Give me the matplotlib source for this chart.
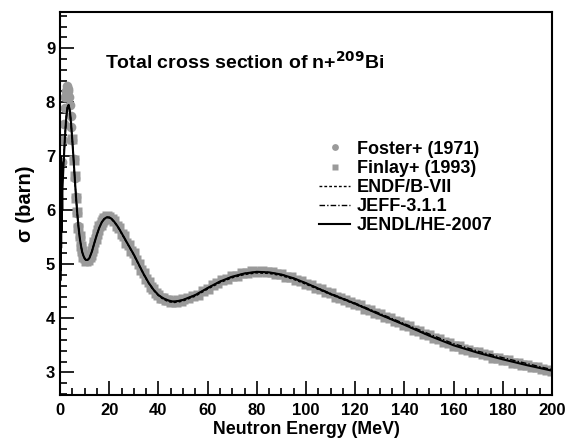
import matplotlib
matplotlib.use("Agg")
import matplotlib.pyplot as plt
from matplotlib.ticker import MultipleLocator

plt.rcParams['font.family'] = ['Liberation Sans', 'DejaVu Sans']
plt.rcParams['font.weight'] = 'bold'
plt.rcParams['mathtext.default'] = 'bf'

# evaluated data: low energy resonance region (JENDL/HE)
e_res = [0.05, 0.1, 0.15, 0.2, 0.25, 0.3, 0.35, 0.4, 0.45, 0.5, 0.55, 0.6, 0.7, 0.8, 0.9, 1.0]
s_res = [5.0, 6.8, 4.7, 6.5, 5.2, 7.0, 4.9, 6.6, 5.3, 6.9, 5.6, 6.7, 5.9, 6.3, 6.0, 6.4]

# evaluated data above 1 MeV
e_eval = [1.5, 2.0, 2.5, 3.0, 3.5, 4.0, 4.5, 5.0, 5.5, 6.0, 6.5, 7.0, 7.5, 8.0, 8.5, 9.0,
          9.5, 10, 10.5, 11, 11.5, 12, 13, 14, 15, 16, 17, 18, 19, 20, 21, 22, 23, 24,
          25, 26, 27, 28, 29, 30, 32, 34, 36, 38, 40, 42, 44, 46, 48, 50, 55, 60, 65,
          70, 75, 80, 85, 90, 95, 100, 110, 120, 130, 140, 150, 160, 170, 180, 190, 200]
s_jendl = [6.9, 7.35, 7.7, 7.9, 7.95, 7.85, 7.6, 7.3, 6.95, 6.6, 6.25, 5.95, 5.7, 5.5, 5.35, 5.23,
           5.16, 5.11, 5.08, 5.08, 5.09, 5.12, 5.24, 5.4, 5.55, 5.68, 5.78, 5.84, 5.87, 5.87, 5.84, 5.79, 5.73, 5.66,
           5.58, 5.5, 5.42, 5.34, 5.26, 5.18, 5.0, 4.82, 4.66, 4.53, 4.43, 4.37, 4.33, 4.31, 4.32, 4.34, 4.43, 4.56, 4.68,
           4.77, 4.83, 4.86, 4.85, 4.81, 4.74, 4.65, 4.45, 4.27, 4.07, 3.88, 3.68, 3.50, 3.36, 3.24, 3.13, 3.03]
s_endf = [6.9, 7.35, 7.7, 7.9, 7.94, 7.84, 7.6, 7.3, 6.95, 6.6, 6.25, 5.95, 5.7, 5.5, 5.35, 5.23,
          5.16, 5.11, 5.08, 5.08, 5.09, 5.12, 5.24, 5.4, 5.55, 5.68, 5.78, 5.84, 5.86, 5.86, 5.83, 5.78, 5.72, 5.65,
          5.57, 5.49, 5.41, 5.33, 5.25, 5.17, 4.99, 4.81, 4.65, 4.52, 4.42, 4.35, 4.31, 4.29, 4.30, 4.32, 4.41, 4.54, 4.66,
          4.75, 4.81, 4.84, 4.83, 4.79, 4.72, 4.63, 4.44, 4.26, 4.07, 3.88, 3.68]
s_jeff = [6.9, 7.35, 7.7, 7.9, 7.95, 7.85, 7.6, 7.3, 6.95, 6.6, 6.25, 5.95, 5.7, 5.5, 5.35, 5.23,
          5.16, 5.11, 5.08, 5.08, 5.09, 5.12, 5.24, 5.4, 5.55, 5.68, 5.78, 5.84, 5.87, 5.87, 5.84, 5.79, 5.73, 5.66,
          5.58, 5.5, 5.42, 5.34, 5.26, 5.18, 5.0, 4.82, 4.66, 4.53, 4.43, 4.37, 4.33, 4.31, 4.32, 4.34, 4.43, 4.56, 4.68,
          4.77, 4.83, 4.86, 4.85, 4.81, 4.74, 4.65, 4.46, 4.28, 4.09, 3.90, 3.71, 3.53, 3.39, 3.27, 3.16, 3.05]

# experimental data
e_foster = [1.0, 1.3, 1.6, 1.9, 2.2, 2.5, 2.8, 3.1, 3.4, 3.7, 4.0, 4.3, 4.6, 5.0, 5.5, 6.0, 6.5,
            7.0, 7.5, 8.0, 8.5, 9.0, 9.5, 10, 10.5, 11, 11.5, 12, 12.5, 13, 13.5, 14, 14.5, 15]
s_foster = [6.9, 7.3, 7.6, 7.9, 8.1, 8.2, 8.3, 8.25, 8.2, 8.1, 7.95, 7.75, 7.55, 7.3, 6.95, 6.6, 6.25,
            5.95, 5.7, 5.5, 5.35, 5.22, 5.15, 5.1, 5.08, 5.06, 5.08, 5.12, 5.18, 5.26, 5.35, 5.44, 5.52, 5.6]

e_finlay = [5.0, 5.5, 6.0, 6.5, 7.0, 7.5, 8.0, 8.5, 9.0, 9.5, 10, 10.5, 11, 11.5, 12, 12.5, 13, 13.5,
            14, 14.5, 15, 15.5, 16, 16.5, 17, 17.5, 18, 18.5, 19, 19.5, 20, 21, 22, 23, 24, 25, 26,
            27, 28, 29, 30, 31, 32, 33, 34, 35, 36, 37, 38, 39, 40, 41, 42, 43, 44, 45, 46, 47, 48,
            49, 50, 52, 54, 56, 58, 60, 62, 64, 66, 68, 70, 72, 74, 76, 78, 80, 82, 84, 86, 88, 90,
            92, 94, 96, 98, 100, 102, 104, 106, 108, 110, 112, 114, 116, 118, 120, 122, 124, 126,
            128, 130, 132, 134, 136, 138, 140, 142, 144, 146, 148, 150, 152, 154, 156, 158, 160,
            162, 164, 166, 168, 170, 172, 174, 176, 178, 180, 182, 184, 186, 188, 190, 192, 194,
            196, 198, 200]
s_finlay = [7.32, 6.93, 6.63, 6.22, 5.97, 5.68, 5.52, 5.33, 5.25, 5.14, 5.12, 5.06, 5.09, 5.07, 5.14,
            5.17, 5.25, 5.31, 5.42, 5.47, 5.56, 5.63, 5.70, 5.72, 5.79, 5.82, 5.86, 5.85, 5.89, 5.86,
            5.88, 5.83, 5.81, 5.71, 5.67, 5.56, 5.52, 5.40, 5.36, 5.24, 5.20, 5.08, 5.01, 4.90, 4.83,
            4.72, 4.67, 4.58, 4.54, 4.46, 4.44, 4.38, 4.38, 4.33, 4.34, 4.30, 4.32, 4.30, 4.33, 4.32,
            4.35, 4.37, 4.42, 4.44, 4.51, 4.55, 4.62, 4.65, 4.71, 4.73, 4.78, 4.79, 4.84, 4.83, 4.87,
            4.85, 4.88, 4.85, 4.86, 4.82, 4.82, 4.77, 4.76, 4.70, 4.69, 4.64, 4.62, 4.56, 4.54, 4.48,
            4.46, 4.40, 4.38, 4.33, 4.31, 4.26, 4.24, 4.18, 4.16, 4.10, 4.08, 4.02, 4.01, 3.95, 3.93,
            3.87, 3.86, 3.79, 3.77, 3.70, 3.69, 3.63, 3.62, 3.56, 3.54, 3.49, 3.48, 3.43, 3.42, 3.37,
            3.37, 3.33, 3.32, 3.27, 3.27, 3.23, 3.23, 3.18, 3.18, 3.14, 3.14, 3.10, 3.10, 3.06, 3.05,
            3.02]

gray = '#9a9a9a'

fig = plt.figure(figsize=(5.73, 4.41), dpi=100)
ax = fig.add_axes([60/573, 46/441, 492/573, 383/441])

ax.plot(e_foster, s_foster, 'o', color=gray, ms=7, mec='none', label='Foster+ (1971)')
ax.plot(e_finlay, s_finlay, 's', color=gray, ms=7, mec='none', label='Finlay+ (1993)')
ax.plot(e_eval[:len(s_endf)], s_endf, color='black', lw=1.0, ls=(0, (2, 1.5)), label='ENDF/B-VII')
ax.plot(e_eval, s_jeff, color='black', lw=1.0, ls=(0, (4, 1.5, 1, 1.5)), label='JEFF-3.1.1')
ax.plot(e_res + e_eval, s_res + s_jendl, color='black', lw=1.5, label='JENDL/HE-2007')

ax.set_xlim(0, 200)
ax.set_ylim(2.58, 9.67)
ax.xaxis.set_major_locator(MultipleLocator(20))
ax.xaxis.set_minor_locator(MultipleLocator(5))
ax.yaxis.set_major_locator(MultipleLocator(1))
ax.yaxis.set_minor_locator(MultipleLocator(0.2))
ax.tick_params(which='both', direction='in', top=False, right=False, width=1.2, labelsize=12)
ax.tick_params(which='major', length=10)
ax.tick_params(which='minor', length=5)
ax.tick_params(axis='x', pad=6)
for sp in ax.spines.values():
    sp.set_linewidth(1.5)

ax.set_xlabel('Neutron Energy (MeV)', fontsize=12.8, fontweight='bold', labelpad=2)
ax.set_ylabel('σ (barn)', fontsize=14.5, fontweight='bold', labelpad=8)

ax.text(0.092, 0.87, 'Total cross section of n+$^{209}$Bi', transform=ax.transAxes,
        fontsize=14, fontweight='bold', va='center', ha='left')

leg = ax.legend(loc='upper left', bbox_to_anchor=(0.526, 0.664), frameon=False, fontsize=13,
                handlelength=1.75, handletextpad=0.35, labelspacing=0.12, borderpad=0,
                borderaxespad=0, markerscale=0.7)

fig.savefig('out.png', dpi=100)
